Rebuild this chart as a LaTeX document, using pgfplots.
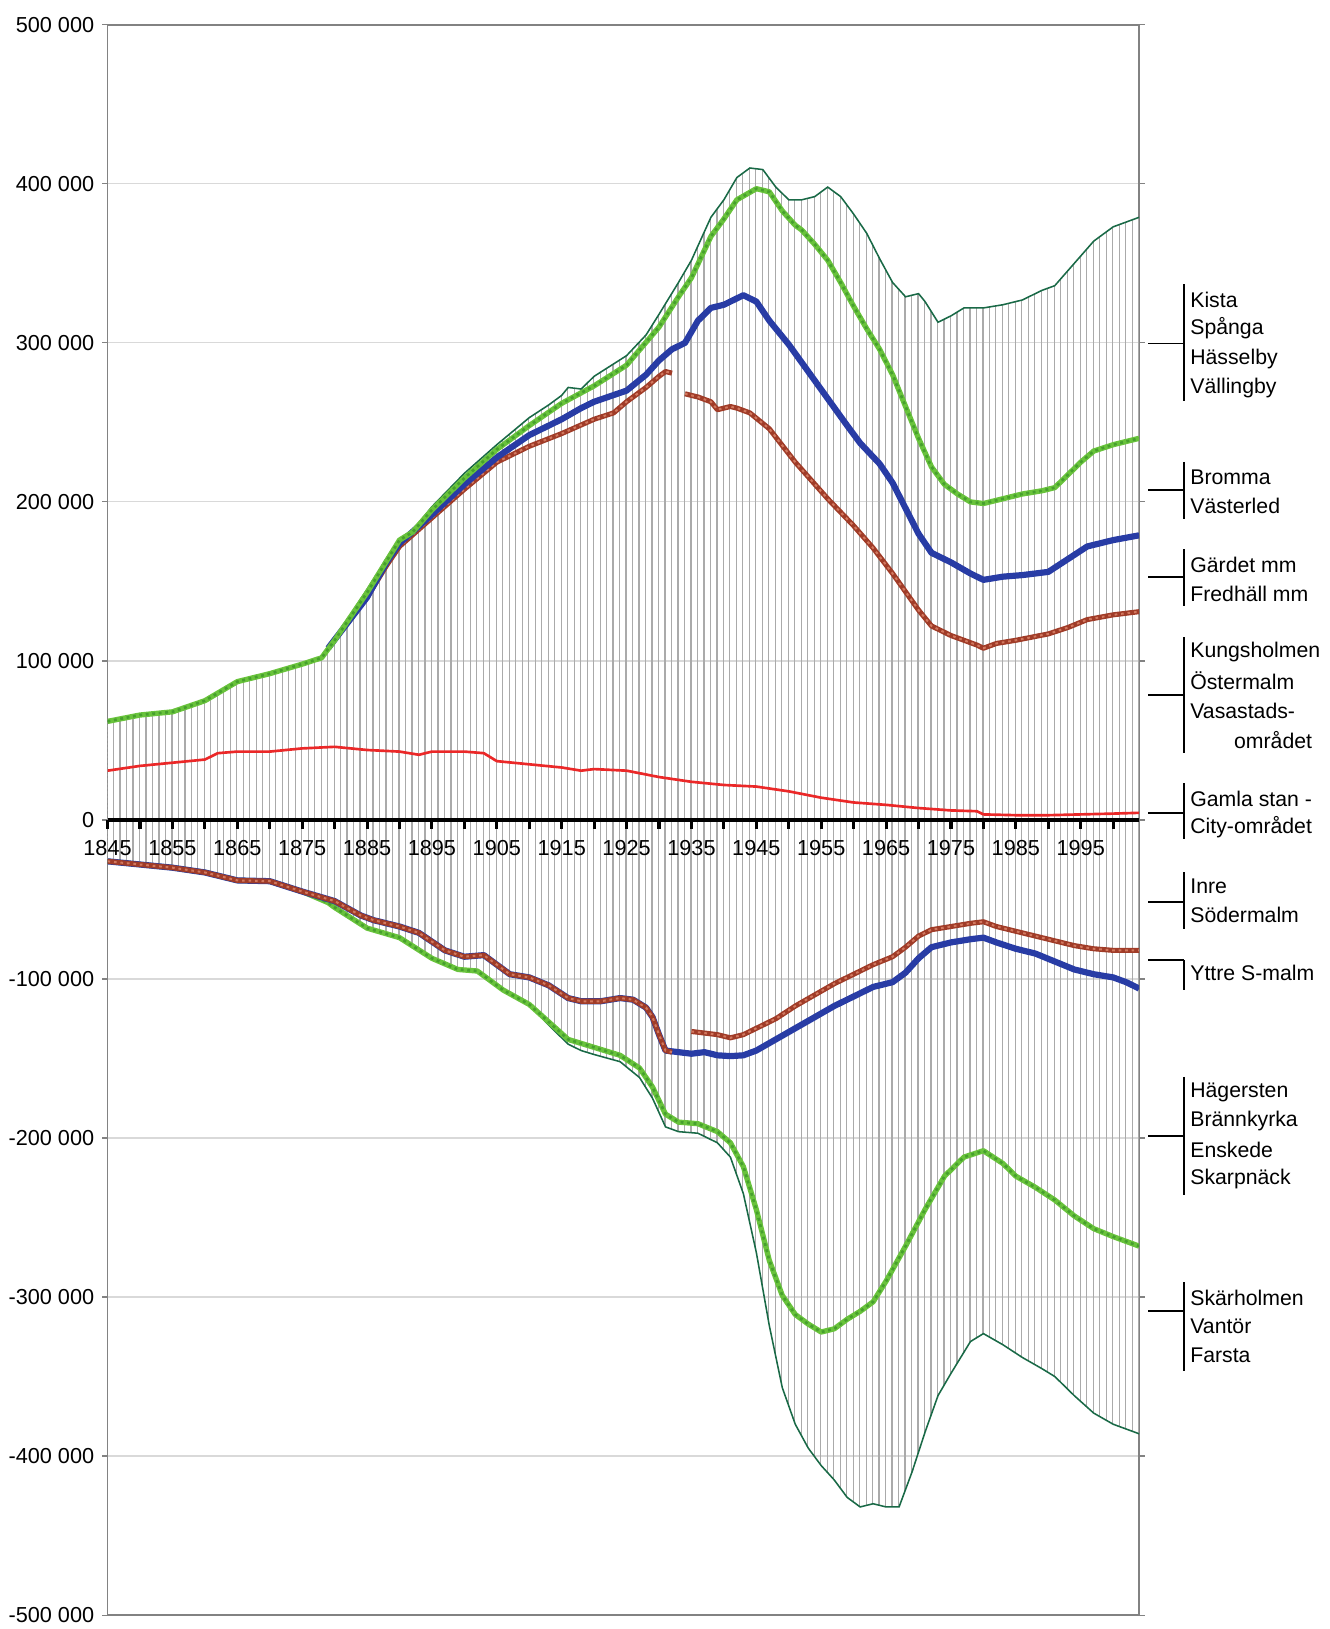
\documentclass[border=0pt]{standalone}
\usepackage{fontspec}
\setmainfont{Liberation Sans}
\usepackage{pgfplots}
\pgfplotsset{compat=1.18}
\usepackage{pgfplotstable}
\usetikzlibrary{patterns}

% one thin grey line per year (466.2pt / 159 years)
\pgfdeclarepatternformonly{yearlines}{\pgfqpoint{-0.5pt}{-0.5pt}}{\pgfqpoint{3.43pt}{2.5pt}}{\pgfqpoint{2.932pt}{2pt}}{%
  \pgfsetlinewidth{0.55pt}%
  \pgfpathmoveto{\pgfqpoint{1.466pt}{-0.5pt}}%
  \pgfpathlineto{\pgfqpoint{1.466pt}{2.5pt}}%
  \pgfusepath{stroke}}

\definecolor{envgreen}{RGB}{25,105,70}
\definecolor{lgreen}{RGB}{105,195,60}
\definecolor{mgreen}{RGB}{70,160,45}
\definecolor{dblue}{RGB}{40,60,165}
\definecolor{brownr}{RGB}{160,60,40}
\definecolor{brownl}{RGB}{210,120,95}
\definecolor{redl}{RGB}{235,40,40}
\definecolor{hatch}{RGB}{170,170,170}
\definecolor{frame}{RGB}{130,130,130}

% ---- upper half (north) ----
\pgfplotstableread{
x y
1845 62000
1850 66000
1855 68000
1860 75000
1865 87000
1870 92000
1875 98000
1878 102000
1880 114000
1885 145000
1890 177000
1892 182000
1895 197000
1900 218000
1905 236000
1910 253000
1913 261000
1915 267000
1916 272000
1918 271000
1920 279000
1925 292000
1928 305000
1930 318000
1933 338000
1935 352000
1938 379000
1940 390000
1942 404000
1944 410000
1946 409000
1948 398000
1950 390000
1952 390000
1954 392000
1956 398000
1958 392000
1960 381000
1962 369000
1964 353000
1966 338000
1968 329000
1970 331000
1971 326000
1973 313000
1975 317000
1977 322000
1980 322000
1983 324000
1986 327000
1989 333000
1991 336000
1994 350000
1997 364000
2000 373000
2004 379000
}\uenv

\pgfplotstableread{
x y
1845 62000
1850 66000
1855 68000
1860 75000
1865 87000
1870 92000
1875 98000
1878 102000
1880 113000
1885 143000
1890 176000
1892 181000
1895 195000
1900 215000
1905 233000
1910 248000
1915 262000
1920 273000
1925 286000
1930 310000
1933 329000
1935 341000
1938 367000
1940 378000
1942 390000
1945 397000
1947 395000
1949 383000
1951 374000
1952 371000
1954 362000
1956 352000
1958 338000
1960 323000
1962 309000
1964 296000
1966 280000
1968 260000
1970 240000
1972 222000
1974 211000
1976 205000
1978 200000
1980 199000
1983 202000
1986 205000
1989 207000
1991 209000
1993 217000
1995 225000
1997 232000
2000 236000
2004 240000
}\ugreen

\pgfplotstableread{
x y
1879 108000
1885 140000
1888 162000
1890 174000
1895 192000
1900 211000
1905 228000
1910 242000
1915 252000
1918 259000
1920 263000
1925 270000
1928 280000
1930 289000
1932 296000
1934 300000
1936 314000
1938 322000
1940 324000
1943 330000
1945 326000
1947 314000
1950 299000
1953 282000
1956 265000
1959 248000
1961 237000
1964 224000
1966 212000
1968 196000
1970 180000
1972 168000
1975 162000
1978 155000
1980 151000
1983 153000
1986 154000
1990 156000
1993 164000
1996 172000
2000 176000
2004 179000
}\ublue

\pgfplotstableread{
x y
1879 108000
1885 140000
1888 160000
1890 172000
1895 190000
1900 208000
1905 225000
1910 235000
1915 243000
1920 252000
1923 256000
1925 263000
1928 272000
1930 279000
1931 282000
1932 281000
1933 nan
1934 268000
1936 266000
1938 263000
1939 258000
1941 260000
1942 259000
1944 256000
1947 246000
1951 225000
1956 202000
1960 185000
1963 171000
1966 155000
1970 132000
1972 122000
1975 116000
1979 110000
1980 108000
1982 111000
1985 113000
1990 117000
1993 121000
1996 126000
2000 129000
2004 131000
}\ubrown

\pgfplotstableread{
x y
1845 31000
1850 34000
1855 36000
1860 38000
1862 42000
1865 43000
1870 43000
1875 45000
1880 46000
1885 44000
1890 43000
1893 41000
1895 43000
1900 43000
1903 42000
1905 37000
1910 35000
1915 33000
1918 31000
1920 32000
1925 31000
1930 27000
1935 24000
1940 22000
1945 21000
1950 18000
1955 14000
1960 11000
1965 9500
1970 7500
1975 6000
1979 5500
1980 3500
1985 3000
1990 3000
1995 3500
2000 4000
2004 4500
}\ured

% ---- lower half (south) ----
\pgfplotstableread{
x y
1845 -26000
1850 -28000
1855 -30000
1860 -33000
1865 -38000
1870 -38500
1875 -45000
1879 -52000
1880 -55000
1885 -68000
1890 -74000
1895 -87000
1899 -94000
1902 -95000
1906 -107000
1910 -116000
1913 -129000
1916 -141000
1918 -145000
1920 -147500
1924 -152000
1927 -162000
1929 -175000
1931 -193000
1933 -196000
1936 -197000
1939 -203000
1941 -212000
1943 -235000
1945 -272000
1947 -318000
1949 -357000
1951 -380000
1953 -395000
1955 -406000
1957 -415000
1959 -426000
1961 -432000
1963 -430000
1965 -432000
1967 -432000
1969 -410000
1971 -385000
1973 -362000
1975 -348000
1978 -328000
1980 -323000
1983 -330000
1986 -338000
1989 -345000
1991 -350000
1994 -362000
1997 -373000
2000 -380000
2004 -386000
}\lenv

\pgfplotstableread{
x y
1845 -26000
1850 -28000
1855 -30000
1860 -33000
1865 -38000
1870 -38500
1875 -45000
1879 -52000
1880 -55000
1885 -68000
1890 -74000
1895 -87000
1899 -94000
1902 -95000
1906 -107000
1910 -116000
1913 -127000
1916 -138000
1920 -143000
1924 -148000
1927 -156000
1929 -168000
1931 -185000
1933 -190000
1936 -191000
1939 -196000
1941 -203000
1943 -218000
1945 -245000
1947 -277000
1949 -299000
1951 -311000
1953 -317000
1955 -322000
1957 -320000
1959 -314000
1961 -309000
1963 -303000
1965 -290000
1968 -268000
1971 -245000
1974 -224000
1977 -212000
1980 -208000
1983 -216000
1985 -224000
1988 -231000
1991 -239000
1994 -249000
1997 -257000
2000 -262000
2004 -268000
}\lgreen

\pgfplotstableread{
x y
1845 -26000
1850 -28000
1855 -30000
1860 -33000
1865 -38000
1870 -38500
1875 -45000
1880 -51000
1884 -60000
1886 -63000
1890 -67000
1893 -71000
1897 -82000
1900 -86000
1903 -85000
1907 -97000
1910 -99000
1913 -104000
1916 -112000
1918 -114000
1921 -114000
1924 -112000
1926 -113000
1928 -118000
1929 -124000
1930 -135000
1931 -145000
1933 -146000
1935 -147000
1937 -146000
1939 -148000
1941 -148500
1943 -148000
1945 -145000
1948 -138000
1951 -131000
1954 -124000
1957 -117000
1960 -111000
1963 -105000
1966 -102000
1968 -96000
1970 -87000
1972 -80000
1975 -77000
1978 -75000
1980 -74000
1982 -77000
1985 -81000
1988 -84000
1991 -89000
1994 -94000
1997 -97000
2000 -99000
2002 -102000
2004 -106000
}\lblue

\pgfplotstableread{
x y
1845 -26000
1850 -28000
1855 -30000
1860 -33000
1865 -38000
1870 -38500
1875 -45000
1880 -51000
1884 -60000
1886 -63000
1890 -67000
1893 -71000
1897 -82000
1900 -86000
1903 -85000
1907 -97000
1910 -99000
1913 -104000
1916 -112000
1918 -114000
1921 -114000
1924 -112000
1926 -113000
1928 -118000
1929 -124000
1930 -135000
1931 -145000
1932 -146000
1933 nan
1935 -133000
1937 -134000
1939 -135000
1941 -137000
1943 -135000
1945 -131000
1948 -125000
1951 -117000
1954 -110000
1957 -103000
1960 -97000
1963 -91000
1966 -86000
1968 -80000
1970 -73000
1972 -69000
1975 -67000
1978 -65000
1980 -64000
1982 -67000
1985 -70000
1988 -73000
1991 -76000
1994 -79000
1997 -81000
2000 -82000
2004 -82000
}\lbrown

\newcommand\lblfont{\fontsize{9.6}{11}\selectfont}
\newcommand\grp[3]{%
  \draw[line width=0.9pt] (1153,#3) -- (1189.5,#3);
  \draw[line width=0.9pt] (1189.5,#1) -- (1189.5,#2);}

\pgfplotsset{
  env/.style={envgreen, line width=0.7pt},
  gline/.style={lgreen, line width=2.4pt, line join=round},
  gdots/.style={mgreen, line width=1.2pt, dash pattern=on 1.3pt off 1.63pt},
  bline/.style={brownr, line width=2.3pt, line join=round},
  bdots/.style={brownl, line width=0.9pt, dash pattern=on 1.2pt off 1.73pt},
  uline/.style={dblue, line width=2.8pt, line join=round},
  rline/.style={redl, line width=1.2pt},
}

\begin{document}
\begin{tikzpicture}
\begin{axis}[
    at={(0,0)}, anchor=south west,
    width=466.2pt, height=718.65pt, scale only axis,
    xmin=1845, xmax=2004,
    ymin=-500000, ymax=500000,
    xtick=\empty,
    ytick={-500000,-400000,-300000,-200000,-100000,0,100000,200000,300000,400000,500000},
    yticklabels={-500 000,-400 000,-300 000,-200 000,-100 000,0,100 000,200 000,300 000,400 000,500 000},
    scaled y ticks=false,
    ymajorgrids,
    major grid style={gray!30, line width=0.5pt},
    axis line style={frame, line width=0.6pt},
    tick style={frame, line width=0.5pt},
    tick align=outside, major tick length=2.5pt,
    yticklabel style={font=\fontsize{9.8}{11}\selectfont},
    unbounded coords=jump,
  ]
  % hatching from envelope to envelope
  \addplot[draw=none, pattern=yearlines, pattern color=hatch] table {\uenv} \closedcycle;
  \addplot[draw=none, pattern=yearlines, pattern color=hatch] table {\lenv} \closedcycle;

  % upper half
  \addplot[env] table {\uenv};
  \addplot[bline] table {\ubrown};
  \addplot[bdots] table {\ubrown};
  \addplot[uline] table {\ublue};
  \addplot[gline] table {\ugreen};
  \addplot[gdots] table {\ugreen};
  \addplot[rline] table {\ured};

  % lower half
  \addplot[env] table {\lenv};
  \addplot[gline] table {\lgreen};
  \addplot[gdots] table {\lgreen};
  \addplot[uline] table {\lblue};
  \addplot[bline] table {\lbrown};
  \addplot[bdots] table {\lbrown};
\end{axis}

% zero line with the year ticks
\begin{axis}[
    at={(0,0)}, anchor=south west,
    width=466.2pt, height=718.65pt, scale only axis,
    xmin=1845, xmax=2004,
    ymin=-500000, ymax=500000,
    axis x line=middle, axis y line=none,
    x axis line style={-, black, line width=1.8pt},
    xtick={1845,1855,...,1995},
    minor xtick={1850,1860,...,2000},
    ytick=\empty,
    tick align=outside,
    major tick length=4pt, minor tick length=4pt,
    tick style={black, line width=1.4pt},
    xticklabel style={font=\fontsize{9.8}{11}\selectfont, /pgf/number format/1000 sep=, yshift=-1.5pt},
    /pgf/number format/assume math mode=true,
  ]
\end{axis}

\begin{scope}[shift={(-48.6pt,729.9pt)}, x=0.45pt, y=-0.45pt]
  \grp{285.7}{403.1}{345}
  \node[anchor=west, inner sep=0pt, font=\lblfont] at (1195,301) {Kista};
  \node[anchor=west, inner sep=0pt, font=\lblfont] at (1195,330) {Spånga};
  \node[anchor=west, inner sep=0pt, font=\lblfont] at (1195,360.5) {Hässelby};
  \node[anchor=west, inner sep=0pt, font=\lblfont] at (1195,389.6) {Vällingby};

  \grp{464}{521.5}{492.5}
  \node[anchor=west, inner sep=0pt, font=\lblfont] at (1195,479) {Bromma};
  \node[anchor=west, inner sep=0pt, font=\lblfont] at (1195,508) {Västerled};

  \grp{551.7}{608.8}{579.7}
  \node[anchor=west, inner sep=0pt, font=\lblfont] at (1195,567) {Gärdet mm};
  \node[anchor=west, inner sep=0pt, font=\lblfont] at (1195,596) {Fredhäll mm};

  \grp{640}{756}{698}
  \node[anchor=west, inner sep=0pt, font=\lblfont] at (1195,654.5) {Kungsholmen};
  \node[anchor=west, inner sep=0pt, font=\lblfont] at (1195,683.6) {Östermalm};
  \node[anchor=west, inner sep=0pt, font=\lblfont] at (1195,713.7) {Vasastads-};
  \node[anchor=west, inner sep=0pt, font=\lblfont] at (1239,742.8) {området};

  \grp{786.5}{842.6}{816.6}
  \node[anchor=west, inner sep=0pt, font=\lblfont] at (1195,802) {Gamla stan -};
  \node[anchor=west, inner sep=0pt, font=\lblfont] at (1195,831) {City-området};

  \grp{876}{933}{906}
  \node[anchor=west, inner sep=0pt, font=\lblfont] at (1195,890) {Inre};
  \node[anchor=west, inner sep=0pt, font=\lblfont] at (1195,919) {Södermalm};

  \grp{964}{994}{964}
  \node[anchor=west, inner sep=0pt, font=\lblfont] at (1195,977.6) {Yttre S-malm};

  \grp{1081.5}{1200}{1140.7}
  \node[anchor=west, inner sep=0pt, font=\lblfont] at (1195,1097) {Hägersten};
  \node[anchor=west, inner sep=0pt, font=\lblfont] at (1195,1126) {Brännkyrka};
  \node[anchor=west, inner sep=0pt, font=\lblfont] at (1195,1155) {Enskede};
  \node[anchor=west, inner sep=0pt, font=\lblfont] at (1195,1184) {Skarpnäck};

  \grp{1288}{1376.5}{1317}
  \node[anchor=west, inner sep=0pt, font=\lblfont] at (1195,1303) {Skärholmen};
  \node[anchor=west, inner sep=0pt, font=\lblfont] at (1195,1332) {Vantör};
  \node[anchor=west, inner sep=0pt, font=\lblfont] at (1195,1361) {Farsta};

  \pgfresetboundingbox
  \path[use as bounding box] (0,0) rectangle (1335,1636);
\end{scope}
\end{tikzpicture}
\end{document}
